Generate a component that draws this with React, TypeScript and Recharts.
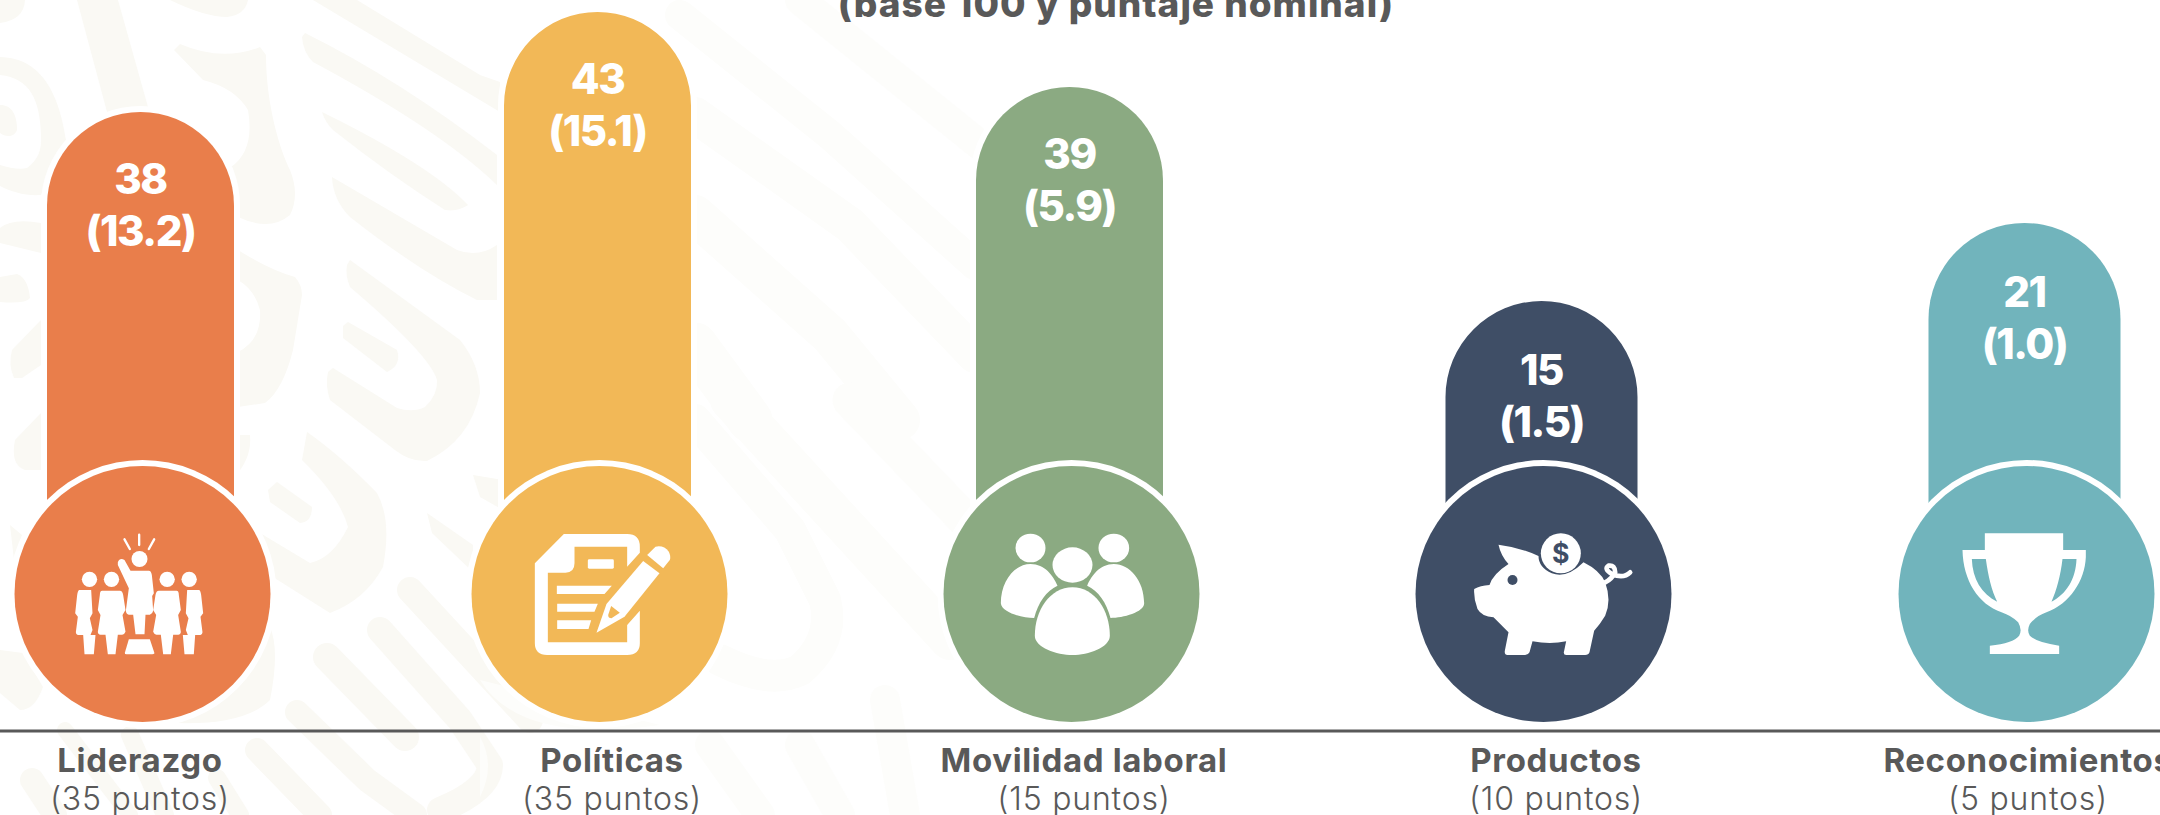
import React from 'react';
import { BarChart, Bar, XAxis, YAxis, LabelList } from 'recharts';

const categories = ['Liderazgo', 'Políticas', 'Movilidad laboral', 'Productos', 'Reconocimientos'];
const maxPoints = [35, 35, 15, 10, 5];
const base100 = [38, 43, 39, 15, 21];
const nominal = ['13.2', '15.1', '5.9', '1.5', '1.0'];

const colors = ['#E97E4B', '#F2B857', '#8BAA82', '#3F4E66', '#71B4BC'];
const TEXT = '#595959';
const FONT = 'Inter, "Open Sans", sans-serif';

// the infographic is not drawn to scale, so the y axis is warped to the same bar tops
const yKnots: [number, number][] = [[0, 0], [15, 0.5882], [21, 0.6949], [38, 0.8468], [39, 0.881], [43, 0.9836], [50, 1]];
// the pills sit a little off the evenly spaced labels
const pillNudge = [0, -15, -15, -15, -4];
const pillWidth = [187, 187, 187, 192, 192];
const circleNudge = [2, -13, -13, -13, -2];
const labelDrop = [1, 1, 1, 3, 3];

const makeScale = (dom = [0, 50], rng = [731, 0]) => {
  const s: any = (v: number) => {
    let t = 1;
    for (let i = 1; i < yKnots.length; i++) {
      if (v <= yKnots[i][0]) {
        const [a, ta] = yKnots[i - 1];
        const [b, tb] = yKnots[i];
        t = ta + ((v - a) / (b - a)) * (tb - ta);
        break;
      }
    }
    return rng[0] + t * (rng[1] - rng[0]);
  };
  s.domain = (d?: number[]) => (d ? makeScale(d, rng) : dom);
  s.range = (r?: number[]) => (r ? makeScale(dom, r) : rng);
  s.copy = () => makeScale(dom, rng);
  s.ticks = () => [];
  s.tickFormat = () => (v: number) => String(v);
  return s;
};

const chartData = categories.map((name, i) => ({
  name,
  points: maxPoints[i],
  value: base100[i],
  nominal: nominal[i],
}));

const sideFigure = 'M236 570 H272 L276 640 L268 655 L276 690 L270 705 H285 L280 763 H252 L248 705 H232 Q226 703 226 697 L232 650 L224 640 L230 585 Q232 572 236 570Z';
const innerFigure = 'M305 572 H358 Q366 572 368 585 L375 630 L366 645 L375 695 Q372 703 365 704 H352 L345 763 H322 L315 704 H300 Q292 703 292 695 L300 645 L292 630 L298 585 Q298 572 305 572Z';

const icons = [
  // people with a leader
  (bg: string) => (
    <g fill="#fff" transform="scale(0.3333) translate(-426 -582)">
      <circle cx={267} cy={538} r={23} />
      <circle cx={333} cy={538} r={23} />
      <circle cx={500} cy={538} r={23} />
      <circle cx={566} cy={538} r={23} />
      <circle cx={417} cy={477} r={24} />
      <path d={sideFigure} />
      <path d={innerFigure} />
      <path d={innerFigure} transform="translate(833 0) scale(-1 1)" />
      <path d={sideFigure} transform="translate(832 0) scale(-1 1)" />
      <path d="M352 487 Q358 472 372 480 L390 512 H445 Q452 512 454 525 L460 580 L455 588 L458 632 Q456 642 448 644 H435 L432 703 H405 L398 644 H385 Q377 642 376 632 L385 565 L352 495Z" />
      <path d="M385 718 H448 L462 760 Q460 763 455 763 H378 Q372 763 373 758Z" />
      <path d="M372 418 L388 447 M416 404 V435 M461 418 L445 447" stroke="#fff" strokeWidth={7} strokeLinecap="round" />
    </g>
  ),
  // form and pencil
  (bg: string) => (
    <g fill="#fff" transform="scale(0.3333) translate(-357 -582)">
      <path d="M250 402 H440 Q478 402 478 440 V458 L440 500 V440 H282 V490 Q282 518 255 518 H202 V727 H440 V675 L478 632 V730 Q478 765 440 765 H200 Q163 765 163 730 V490 Z" />
      <rect x={322} y={478} width={78} height={28} rx={4} />
      <path d="M229 557 H394 L372 582 H229Z M230 611 H352 L342 635 H230Z M230 661 H332 L324 687 H230Z" />
      <path d="M488 483 L537 520 L432 650 L348 698 L378 612 Z" />
      <path fill={bg} d="M392 618 L418 638 L393 655 Q383 655 383 645Z" />
      <path d="M500 465 L525 440 Q550 435 565 455 Q572 470 568 480 L548 505Z" />
    </g>
  ),
  // group
  (bg: string) => (
    <g fill="#fff" transform="scale(0.3333) translate(-240 -210)">
      <ellipse cx={117} cy={72} rx={45} ry={43} />
      <ellipse cx={367} cy={72} rx={46} ry={43} />
      <ellipse cx={243} cy={123} rx={60} ry={53} />
      <path d="M117 120 C160 120 185 155 198 185 C165 200 140 235 128 282 C90 282 30 265 28 238 C28 170 70 120 117 120Z" />
      <path d="M367 120 C325 120 300 155 287 185 C320 200 345 235 357 282 C395 282 458 265 458 238 C458 170 415 120 367 120Z" />
      <path d="M243 190 C310 190 355 260 355 335 C355 370 290 393 243 393 C195 393 130 370 130 335 C130 260 175 190 243 190Z" />
    </g>
  ),
  // piggy bank
  (bg: string) => (
    <g fill="#fff" transform="scale(0.3333) translate(-240 -210)">
      <path d="M105 62 Q170 70 225 96 Q225 130 265 148 Q310 165 360 115 Q410 140 425 175 Q445 230 425 275 Q410 300 392 320 L378 385 Q375 393 365 393 H308 Q298 393 302 380 L308 352 Q260 362 207 352 L198 385 Q194 393 185 393 H132 Q122 393 124 380 L135 325 Q110 300 90 280 Q55 278 42 255 Q30 225 32 195 Q50 185 78 183 Q88 150 135 120 Q112 95 105 62Z" />
      <circle cx={147} cy={168} r={15} fill={bg} />
      <circle cx={292} cy={88} r={60} />
      <text x={292} y={116} fontFamily={FONT} fontSize={80} fontWeight={700} fill={bg} textAnchor="middle">$</text>
      <path d="M425 175 Q445 165 455 145 Q455 122 435 125 Q420 135 445 150 Q480 165 500 145" fill="none" stroke="#fff" strokeWidth={14} strokeLinecap="round" />
    </g>
  ),
  // trophy
  (bg: string) => (
    <g fill="#fff" transform="scale(0.3333) translate(-240 -210)">
      <path d="M115 28 H350 V78 H418 V100 C415 170 370 240 300 265 Q270 275 250 300 Q240 320 250 335 Q270 355 338 365 V390 H130 V365 Q200 358 218 335 Q228 318 215 295 Q195 275 165 265 C95 240 50 170 48 78 H115Z" />
      <path fill={bg} d="M76 105 H118 C125 155 135 200 152 233 C105 210 78 165 76 105Z M390 105 H348 C342 155 330 200 315 233 C360 210 388 165 390 105Z" />
    </g>
  ),
];

const PillShape = (props: any) => {
  const { x, y, height, index } = props;
  const i = index;
  const w = pillWidth[i];
  const left = x + props.width / 2 + pillNudge[i] - w / 2;
  const r = w / 2;
  const base = y + height;
  const cy = base - 137;
  const cx = x + props.width / 2 + circleNudge[i];
  const d = `M${left} ${cy} V${y + r} A${r} ${r} 0 0 1 ${left + w} ${y + r} V${cy} Z`;
  return (
    <g>
      <path d={d} fill="#fff" stroke="#fff" strokeWidth={12} />
      <path d={d} fill={colors[i]} />
      <circle cx={cx} cy={cy} r={134} fill="#fff" />
      <circle cx={cx} cy={cy} r={128} fill={colors[i]} />
      <g transform={`translate(${cx} ${cy})`}>{icons[i](colors[i])}</g>
    </g>
  );
};

const PillLabel = (props: any) => {
  const { x, y, width, index } = props;
  const cx = x + width / 2 + pillNudge[index];
  const top = y + labelDrop[index];
  return (
    <g fontFamily={FONT} fontWeight={800} fontSize={42} letterSpacing={-1.5} fill="#fff" textAnchor="middle">
      <text x={cx} y={top + 81}>{base100[index]}</text>
      <text x={cx} y={top + 133}>{`(${nominal[index]})`}</text>
    </g>
  );
};

const CategoryTick = (props: any) => {
  const { x, y, payload, index } = props;
  return (
    <g textAnchor="middle" fill={TEXT} fontFamily={FONT}>
      <text x={x} y={y + 41} fontSize={33} fontWeight={700} letterSpacing={0.65}>{payload.value}</text>
      <text x={x} y={y + 79} fontSize={32} fontWeight={300} letterSpacing={0.8}>{`(${maxPoints[index]} puntos)`}</text>
    </g>
  );
};

// background watermark, filled shapes then pale and dark bands
const wmShapes = [
  'M77 0 H118 L148 107 L107 112Z',
  'M0 0 H25 Q24 20 0 23Z',
  'M0 57 C45 58 60 100 66 140 L41 195 C25 196 12 192 0 186 V165 C10 168 20 170 27 168 C38 160 42 150 41 135 C40 100 30 78 0 75Z',
  'M0 105 C12 105 17 115 17 130 C14 138 5 137 0 133Z',
  'M0 228 Q12 218 41 223 V253 L0 243Z',
  'M0 277 L17 274 Q28 278 30 298 Q26 304 0 302Z',
  'M41 320 L12 350 Q8 365 14 378 L22 378 L41 365Z',
  'M170 0 Q205 17 227 17 Q245 15 248 0Z',
  'M174 50 L180 44 Q222 62 260 47 L266 55 C266 105 280 150 290 170 Q300 195 290 215 Q270 232 238 217 L231 167 Q255 150 248 110 Q235 88 203 80Z',
  'M238 250 Q270 270 295 277 Q302 285 302 295 L293 350 Q283 390 265 403 L238 407 V352 Q262 340 260 310 Q255 290 238 280Z',
  'M313 0 H357 L480 75 L500 82 V112Z',
  'M302 37 L305 33 Q400 80 497 155 V185 Q440 130 313 62 Q303 52 302 37Z',
  'M322 112 Q430 165 468 205 Q458 212 445 210 Q390 175 333 130 Q325 122 322 112Z',
  'M332 177 L457 250 Q478 258 497 245 V300 H477 Q420 272 350 217 Q333 200 332 177Z',
  'M347 265 L350 260 L460 340 Q480 365 480 393 Q470 440 427 461 Q410 462 395 450 L330 400 Q325 385 328 372 L333 368 L397 408 Q413 413 425 407 Q438 395 437 380 Q430 355 350 287 Q345 275 347 265Z',
  'M343 326 L348 322 L397 350 Q402 365 387 372 L343 338Z',
  'M307 432 Q340 455 377 493 Q392 520 383 567 Q365 600 330 613 L273 577 L260 533 L310 563 Q333 558 348 527 Q340 497 302 460Z',
  'M268 490 L277 482 L312 507 Q312 522 300 523 L270 502Z',
  'M0 650 L23 653 L43 687 Q35 710 20 710 L0 693Z',
  'M270 627 Q280 650 270 700 Q245 725 177 723Z',
  'M41 413 L15 440 Q10 465 25 470 L41 470Z',
  'M10 525 L22 535 L14 560Z',
  'M238 435 L250 435 Q252 455 238 473Z',
  'M473 475 L503 480 V510 L480 497Z',
  'M427 513 L473 545 V572 L432 533Z',
];
const wmBands: [string, number][] = [
  ['M410 590 L530 720', 26],
  ['M380 630 L460 720 L490 765 Q490 790 440 810', 26],
  ['M327 657 L405 737', 28],
  ['M297 712 L367 780 L415 815', 24],
  ['M257 750 L320 815', 24],
  ['M65 730 L130 815', 16],
  ['M130 735 L165 815', 18],
  ['M217 778 L240 815', 18],
  ['M32 780 L55 815', 24],
];
const wmPale: [string, number][] = [
  ['M680 15 L830 135 L975 265', 30],
  ['M800 0 L980 145', 30],
  ['M695 115 L850 225 L975 355', 36],
  ['M695 215 L830 335 L900 420', 40],
  ['M695 345 L750 420', 45],
  ['M730 400 L950 640', 40],
  ['M850 400 L975 530', 35],
  ['M695 420 L790 530 L825 600 Q835 640 800 670 Q770 685 720 660', 32],
  ['M885 700 L905 815', 30],
  ['M710 745 L760 815', 30],
  ['M800 745 L840 815', 30],
];

export default function App() {
  return (
    <div style={{ position: 'absolute', left: 0, top: 0, width: 2160, height: 815, overflow: 'hidden', background: '#fff' }}>
      <svg width={2160} height={815} style={{ position: 'absolute', left: 0, top: 0 }}>
        <g fill="none" strokeLinecap="round" strokeLinejoin="round">
          {wmPale.map(([d, w], i) => <path key={i} d={d} stroke="#fdfdfb" strokeWidth={w} />)}
          {wmBands.map(([d, w], i) => <path key={i} d={d} stroke="#faf9f4" strokeWidth={w} />)}
        </g>
        {wmShapes.map((d, i) => <path key={i} d={d} fill="#faf9f4" />)}
        <path d="M480 680 Q520 745 660 725Z M480 737 Q496 765 480 797Z" fill="#fdfdfb" />
      </svg>
      <div style={{ position: 'absolute', left: 0, top: 0 }}>
        <BarChart
          width={2160}
          height={815}
          data={chartData}
          margin={{ top: 0, right: -104, bottom: 0, left: -96 }}
          barCategoryGap={0}
        >
          <text x={1116} y={17} textAnchor="middle" fontFamily={FONT} fontWeight={800} fontSize={37} letterSpacing={1} fill={TEXT}>
            (base 100 y puntaje nominal)
          </text>
          <XAxis
            dataKey="name"
            height={84}
            interval={0}
            tickLine={false}
            tickSize={0}
            tickMargin={0}
            axisLine={{ stroke: TEXT, strokeWidth: 3 }}
            tick={CategoryTick}
          />
          <YAxis hide domain={[0, 50]} scale={makeScale()} />
          <Bar dataKey="value" barSize={187} shape={PillShape} isAnimationActive={false}>
            <LabelList dataKey="value" content={PillLabel} />
          </Bar>
        </BarChart>
      </div>
    </div>
  );
}
